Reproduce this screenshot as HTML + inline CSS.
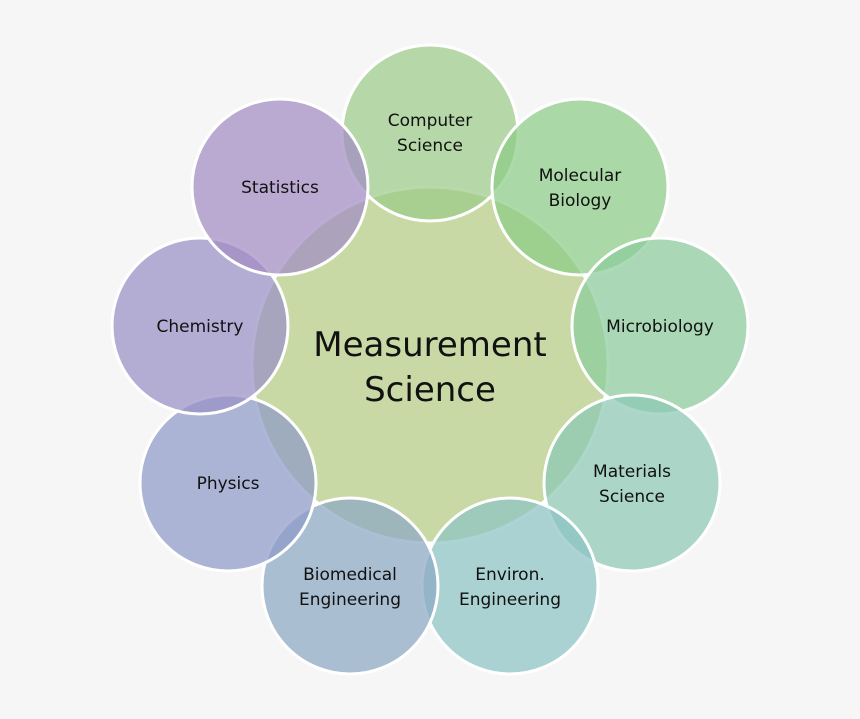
<!DOCTYPE html>
<html><head><meta charset="utf-8"><style>
html,body{margin:0;padding:0;background:#f6f6f6;}
svg{display:block}
text{font-family:"DejaVu Sans","Liberation Sans",sans-serif;fill:#111;text-anchor:middle}
</style></head><body>
<svg width="860" height="719" viewBox="0 0 860 719">
<rect width="860" height="719" fill="#f6f6f6"/>
<circle cx="430" cy="365" r="178" fill="#c9d9a5" stroke="#fff" stroke-width="3"/>
<g stroke="#fff" stroke-width="3" fill-opacity="0.72">
<circle cx="430" cy="133" r="88" fill="#9dcb88"/>
<circle cx="580" cy="187" r="88" fill="#8ccc86"/>
<circle cx="660" cy="326" r="88" fill="#8ccc9c"/>
<circle cx="632" cy="483" r="88" fill="#8cc8b4"/>
<circle cx="510" cy="586" r="88" fill="#8cc3c4"/>
<circle cx="350" cy="586" r="88" fill="#8ca8c4"/>
<circle cx="228" cy="483" r="88" fill="#8e9ac8"/>
<circle cx="200" cy="326" r="88" fill="#9890c6"/>
<circle cx="280" cy="187" r="88" fill="#a28cc4"/>
</g>
<text x="430" y="356" font-size="34">Measurement</text>
<text x="430" y="401" font-size="34">Science</text>
<g font-size="17">
<text x="430" y="126">Computer</text><text x="430" y="151">Science</text>
<text x="580" y="181">Molecular</text><text x="580" y="206">Biology</text>
<text x="660" y="332">Microbiology</text>
<text x="632" y="477">Materials</text><text x="632" y="502">Science</text>
<text x="510" y="580">Environ.</text><text x="510" y="605">Engineering</text>
<text x="350" y="580">Biomedical</text><text x="350" y="605">Engineering</text>
<text x="228" y="489">Physics</text>
<text x="200" y="332">Chemistry</text>
<text x="280" y="193">Statistics</text>
</g>
</svg>
</body></html>
